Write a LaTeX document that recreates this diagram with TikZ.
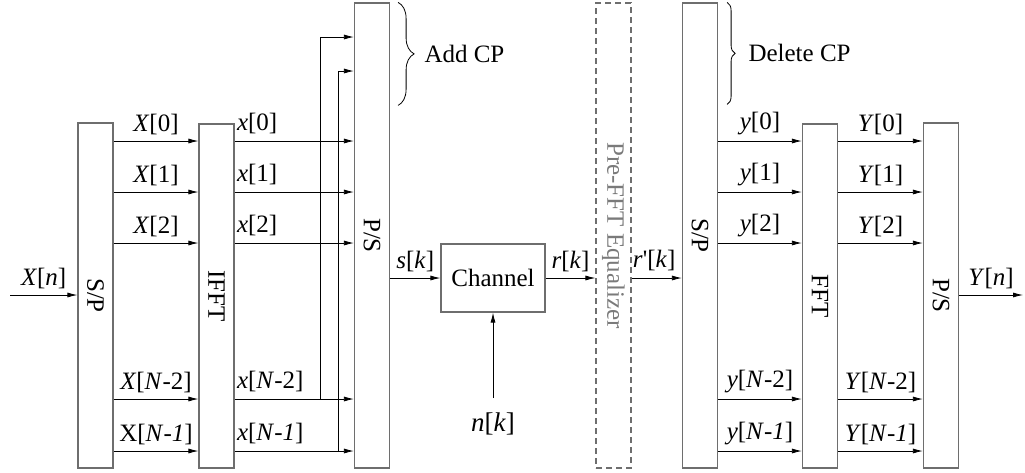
\documentclass[tikz,border=0pt]{standalone}
\usepackage{fontspec}
\setmainfont{Liberation Serif}
\usepackage{graphicx}
\usetikzlibrary{arrows.meta, positioning, calc, decorations.pathreplacing}
\definecolor{OFDMGray}{HTML}{6E6E6E}
\definecolor{OFDMBlack}{HTML}{000000}
\definecolor{OFDMText}{HTML}{7A7A7A}
\newcommand{\itv}[1]{\textit{#1}}
\tikzset{
    % Block styles
    blockbox/.style={
        rectangle,
        draw=OFDMGray,
        line width=1.2pt,
        fill=white,
        inner sep=0pt,
        minimum width=35pt
    },
    eqbox/.style={
        rectangle,
        draw=OFDMGray,
        line width=1.1pt,
        dash pattern=on 6pt off 4pt,
        inner sep=0pt,
        minimum width=35pt
    },
    % Signal styles
    sigarrow/.style={
        -{Latex[length=10pt,width=5pt]},
        line width=0.8pt,
        OFDMBlack
    },
    siglabel/.style={
        inner sep=1pt,
        above=5pt
    },
    % Cyclic prefix brace
    cpbrace/.style={
        decorate,
        decoration={brace, amplitude=#1},
        line width=0.8pt,
        OFDMBlack
    }
}
\begin{document}
\begin{tikzpicture}[x=1pt, y=-1pt, font=\fontsize{25}{29}\selectfont]
    \useasboundingbox (0,0) rectangle (1025,472);

    % Transmitter blocks
    \node[blockbox, minimum height=345pt] (sp1) at (95.5,295.5) {\rotatebox{-90}{S/P}};
    \node[blockbox, minimum height=344pt] (ifft) at (216.5,296) {\rotatebox{-90}{IFFT}};
    \node[blockbox, minimum height=465pt] (ps1) at (372,235.5) {\rotatebox{-90}{P/S}};

    % Channel and equalizer
    \node[blockbox, minimum width=104pt, minimum height=68pt] (chan) at (493,278) {Channel};
    \node[eqbox, minimum height=465pt] (eq) at (613.5,235.5) {\rotatebox{-90}{\color{OFDMText}Pre-FFT Equalizer}};

    % Receiver blocks
    \node[blockbox, minimum height=465pt] (sp2) at (700,235.5) {\rotatebox{-90}{S/P}};
    \node[blockbox, minimum height=344pt] (fft) at (820,296) {\rotatebox{-90}{FFT}};
    \node[blockbox, minimum height=345pt] (ps2) at (941,295.5) {\rotatebox{-90}{P/S}};

    % Parallel branches
    \foreach \yy/\la/\lb/\lc/\ld in {
        141/{\itv{X}[0]}/{\itv{x}[0]}/{\itv{y}[0]}/{\itv{Y}[0]},
        192/{\itv{X}[1]}/{\itv{x}[1]}/{\itv{y}[1]}/{\itv{Y}[1]},
        243/{\itv{X}[2]}/{\itv{x}[2]}/{\itv{y}[2]}/{\itv{Y}[2]},
        399/{\itv{X}[\itv{N}-2]}/{\itv{x}[\itv{N}-2]}/{\itv{y}[\itv{N}-2]}/{\itv{Y}[\itv{N}-2]},
        451/{X[\itv{N}-\itv{1}]}/{\itv{x}[\itv{N}-\itv{1}]}/{\itv{y}[\itv{N}-\itv{1}]}/{\itv{Y}[\itv{N}-\itv{1}]}}{
        \draw[sigarrow] (sp1.east |- 0,\yy) -- node[siglabel] {\la} (ifft.west |- 0,\yy);
        \draw[sigarrow] (ifft.east |- 0,\yy) -- node[pos=0, anchor=south west, inner sep=1pt, xshift=1pt, yshift=6pt] {\lb} (ps1.west |- 0,\yy);
        \draw[sigarrow] (sp2.east |- 0,\yy) -- node[siglabel] {\lc} (fft.west |- 0,\yy);
        \draw[sigarrow] (fft.east |- 0,\yy) -- node[siglabel] {\ld} (ps2.west |- 0,\yy);
    }

    % Cyclic prefix copies
    \coordinate (brA) at (320,399);
    \coordinate (brB) at (338,451);
    \draw[sigarrow] (brA) |- (ps1.west |- 0,37);
    \draw[sigarrow] (brB) |- (ps1.west |- 0,71);

    % Serial signal path
    \coordinate (xin) at (10,295);
    \coordinate (yout) at (1023,295);
    \draw[sigarrow] (xin) -- node[siglabel] {\itv{X}[\itv{n}]} (sp1.west |- xin);
    \draw[sigarrow] (ps1.east |- chan.west) -- node[siglabel] {\itv{s}[\itv{k}]} (chan.west);
    \draw[sigarrow] (chan.east) -- node[siglabel] {\itv{r}[\itv{k}]} (eq.west |- chan.east);
    \draw[sigarrow] (eq.east |- chan.east) -- node[pos=0, anchor=south west, inner sep=1pt, yshift=6pt] {\itv{r}\textquotesingle[\itv{k}]} (sp2.west |- chan.east);
    \draw[sigarrow] (ps2.east |- yout) -- node[siglabel] {\itv{Y}[\itv{n}]} (yout);

    % Noise
    \coordinate (noise) at (493,398);
    \node[below=14pt of noise, inner sep=1pt, font=\fontsize{27}{30}\selectfont] (nk) {\itv{n}[\itv{k}]};
    \draw[sigarrow] (noise) -- (chan.south);

    % Braces
    \draw[cpbrace=16] ($(ps1.north east)+(8,0)$) -- ($(ps1.north east)+(8,103)$)
        node[midway, right=25pt, inner sep=1pt] {Add CP};
    \draw[cpbrace=8] ($(sp2.north east)+(9,0)$) -- ($(sp2.north east)+(9,102)$)
        node[midway, right=20pt, inner sep=1pt] {Delete CP};
\end{tikzpicture}
\end{document}
